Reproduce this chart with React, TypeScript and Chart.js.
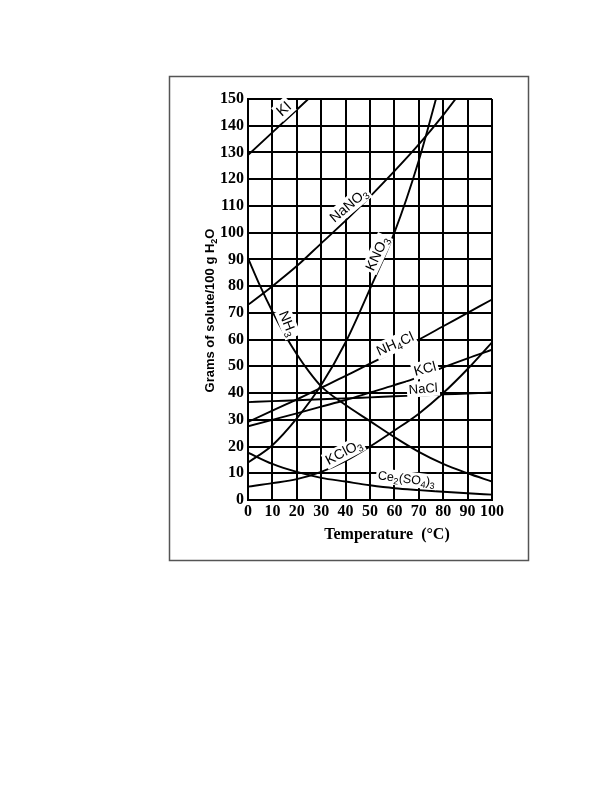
import React, { useEffect, useRef } from "react";
import { Chart, registerables } from "chart.js";

Chart.register(...registerables);

// ---- data ----
const temps = [0, 10, 20, 30, 40, 50, 60, 70, 80, 90, 100];
const kiTemps = [0, 10, 20, 30];
const kiValues = [129, 137.5, 146, 154.5];
const nano3Temps = [0, 10, 20, 30, 40, 50, 60, 70, 80, 90];
const nano3Values = [73, 80, 87.5, 96, 104.5, 113.5, 123, 133, 144, 156];
const kno3Temps = [0, 10, 20, 30, 40, 50, 60, 70, 80];
const kno3Values = [14, 20.5, 30.5, 43, 59, 79, 100, 127, 160];
const nh3Temps = [0, 5, 10, 15, 20, 25, 30, 40, 50, 60, 70, 80, 90, 100];
const nh3Values = [90.5, 80, 70.5, 62, 54.5, 48, 42.5, 35.5, 29.5, 23.5, 18, 13.5, 10, 6.9];
const nh4clValues = [29.2, 33.4, 37.6, 42, 46.4, 51, 55.5, 60, 65, 70, 75];
const kclValues = [27.6, 30, 32.4, 34.9, 37.4, 40.2, 43, 46, 49.6, 53, 56.2];
const naclValues = [36.6, 37, 37.3, 37.7, 38, 38.4, 38.8, 39.1, 39.5, 39.8, 40.2];
const kclo3Values = [5, 6.3, 7.8, 10.5, 14.6, 20, 26, 32.3, 40, 49, 59];
const ce2so43Values = [17.7, 13.5, 10.5, 8.3, 6.9, 5.5, 4.4, 3.7, 3.1, 2.5, 2];

const xTicks = [0, 10, 20, 30, 40, 50, 60, 70, 80, 90, 100];
const yTicks = [0, 10, 20, 30, 40, 50, 60, 70, 80, 90, 100, 110, 120, 130, 140, 150];

type Seg = { t: string; sub?: boolean };

const xTitle = "Temperature  (°C)";
const yTitle: Seg[] = [{ t: "Grams of solute/100 g H" }, { t: "2", sub: true }, { t: "O" }];

// curve labels (text, then anchor in data units, rotation in degrees)
const labelTexts: Seg[][] = [
  [{ t: "KI" }],
  [{ t: "NaNO" }, { t: "3", sub: true }],
  [{ t: "KNO" }, { t: "3", sub: true }],
  [{ t: "NH" }, { t: "3", sub: true }],
  [{ t: "NH" }, { t: "4", sub: true }, { t: "Cl" }],
  [{ t: "KCl" }],
  [{ t: "NaCl" }],
  [{ t: "KClO" }, { t: "3", sub: true }],
  [{ t: "Ce" }, { t: "2", sub: true }, { t: "(SO" }, { t: "4", sub: true }, { t: ")" }, { t: "3", sub: true }],
];
const labelTemps = [14.5, 41.1, 52.7, 16.5, 60.2, 72.5, 71.8, 39.1, 65];
const labelGrams = [146.5, 110.4, 92.3, 66.1, 58.6, 49.3, 41.8, 18.1, 8.1];
const labelAngles = [-42, -40, -65, 68, -24, -15, -4, -28, 7];
const labelSizes = [15, 14, 14, 14, 14, 14, 13, 14, 12.5];

const pts = (xs: number[], ys: number[]) => xs.map((x, i) => ({ x, y: ys[i] }));

function drawRich(
  ctx: CanvasRenderingContext2D,
  segs: Seg[],
  cx: number,
  cy: number,
  angle: number,
  size: number,
  family: string,
  weight: string,
  bg: boolean
) {
  ctx.save();
  ctx.translate(cx, cy);
  ctx.rotate((angle * Math.PI) / 180);
  const main = `${weight} ${size}px ${family}`;
  const sub = `${weight} ${Math.round(size * 0.72)}px ${family}`;
  let w = 0;
  const widths: number[] = [];
  for (const s of segs) {
    ctx.font = s.sub ? sub : main;
    const mw = ctx.measureText(s.t).width;
    widths.push(mw);
    w += mw;
  }
  if (bg) {
    ctx.fillStyle = "#fff";
    ctx.fillRect(-w / 2 - 2, -size * 0.55, w + 4, size * 1.2);
  }
  ctx.fillStyle = "#000";
  ctx.textBaseline = "alphabetic";
  ctx.textAlign = "left";
  const base = size * 0.36;
  let x = -w / 2;
  segs.forEach((s, i) => {
    ctx.font = s.sub ? sub : main;
    ctx.fillText(s.t, x, s.sub ? base + size * 0.22 : base);
    x += widths[i];
  });
  ctx.restore();
}

const decorPlugin = {
  id: "decor",
  beforeDraw(chart: any) {
    const ctx = chart.ctx as CanvasRenderingContext2D;
    ctx.save();
    ctx.strokeStyle = "#555";
    ctx.lineWidth = 1.5;
    ctx.strokeRect(169.5, 76.5, 359, 484);
    ctx.restore();
  },
  afterDatasetsDraw(chart: any) {
    const ctx = chart.ctx as CanvasRenderingContext2D;
    const xs = chart.scales.x;
    const ys = chart.scales.y;
    labelTexts.forEach((segs, i) => {
      const px = xs.getPixelForValue(labelTemps[i]);
      const py = ys.getPixelForValue(labelGrams[i]);
      drawRich(ctx, segs, px, py, labelAngles[i], labelSizes[i], '"Liberation Sans", Arial, sans-serif', "normal", true);
    });
  },
  afterDraw(chart: any) {
    const ctx = chart.ctx as CanvasRenderingContext2D;
    ctx.save();
    ctx.font = 'bold 16px "Liberation Serif", "Times New Roman", serif';
    ctx.fillStyle = "#000";
    ctx.textAlign = "center";
    ctx.textBaseline = "middle";
    ctx.fillText(xTitle, 387, 535);
    ctx.restore();
    drawRich(ctx, yTitle, 209, 310.5, -90, 13, '"Liberation Sans", Arial, sans-serif', "bold", false);
  },
};

export default function App() {
  const ref = useRef<HTMLCanvasElement | null>(null);
  useEffect(() => {
    if (!ref.current) return;
    const line = (data: { x: number; y: number }[]) => ({
      data,
      borderColor: "#000",
      borderWidth: 1.9,
      pointRadius: 0,
      fill: false,
      cubicInterpolationMode: "monotone" as const,
    });
    const tickFont = { family: '"Liberation Serif", "Times New Roman", serif', size: 16, weight: "bold" as const };
    const chart = new Chart(ref.current, {
      type: "line",
      data: {
        datasets: [
          line(pts(kiTemps, kiValues)),
          line(pts(nano3Temps, nano3Values)),
          line(pts(kno3Temps, kno3Values)),
          line(pts(nh3Temps, nh3Values)),
          line(pts(temps, nh4clValues)),
          line(pts(temps, kclValues)),
          line(pts(temps, naclValues)),
          line(pts(temps, kclo3Values)),
          line(pts(temps, ce2so43Values)),
        ],
      },
      options: {
        responsive: false,
        animation: false,
        layout: { padding: { left: 150, right: 120, top: 99, bottom: 252 } },
        plugins: { legend: { display: false }, tooltip: { enabled: false } },
        scales: {
          x: {
            type: "linear",
            min: 0,
            max: 100,
            afterBuildTicks: (s: any) => {
              s.ticks = xTicks.map((v) => ({ value: v }));
            },
            ticks: { font: tickFont, color: "#000", padding: 2, maxRotation: 0, autoSkip: false },
            grid: { color: "#000", lineWidth: 2, drawTicks: false },
            border: { color: "#000", width: 2 },
            afterFit: (s: any) => {
              s.height = 40;
              s.paddingLeft = 0;
              s.paddingRight = 0;
            },
          },
          y: {
            type: "linear",
            min: 0,
            max: 150,
            afterBuildTicks: (s: any) => {
              s.ticks = yTicks.map((v) => ({ value: v }));
            },
            ticks: { font: tickFont, color: "#000", padding: 4, autoSkip: false },
            grid: { color: "#000", lineWidth: 2, drawTicks: false },
            border: { color: "#000", width: 2 },
            afterFit: (s: any) => {
              s.width = 98;
              s.paddingTop = 0;
              s.paddingBottom = 0;
            },
          },
        },
      },
      plugins: [decorPlugin],
    });
    return () => chart.destroy();
  }, []);
  return (
    <div style={{ position: "absolute", left: 0, top: 0, width: 612, height: 792 }}>
      <canvas ref={ref} width={612} height={792} style={{ display: "block" }} />
    </div>
  );
}
